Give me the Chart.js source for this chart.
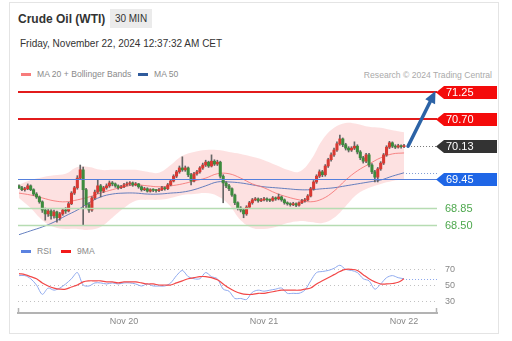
<!DOCTYPE html>
<html>
<head>
<meta charset="utf-8">
<script src="https://cdn.jsdelivr.net/npm/chart.js@4.4.1/dist/chart.umd.min.js"></script>
<style>
  html,body{margin:0;padding:0;background:#fff;}
  body{width:512px;height:341px;position:relative;overflow:hidden;font-family:"Liberation Sans",Arial,sans-serif;}
  .card{position:absolute;left:9px;top:2px;width:490px;height:332px;border:1px solid #e4e4e4;box-sizing:border-box;}
  .t{position:absolute;white-space:nowrap;}
  .sw{position:absolute;width:10px;height:3px;}
  canvas{position:absolute;left:0;}
</style>
</head>
<body>
<div class="card"></div>
<div class="t" style="left:18px;top:13px;font-size:12px;line-height:12px;font-weight:bold;color:#333">Crude Oil (WTI)</div>
<div class="t" style="left:110px;top:9px;width:42px;height:19px;line-height:19px;font-size:10px;text-align:center;background:#ebebeb;color:#333">30 MIN</div>
<div class="t" style="left:20px;top:39px;font-size:10px;line-height:10px;color:#333">Friday, November 22, 2024 12:37:32 AM CET</div>

<div class="sw" style="left:21px;top:73px;background:#f77b7b"></div>
<div class="t" style="left:37px;top:70px;font-size:8.6px;line-height:9px;color:#8a8a8a">MA 20 + Bollinger Bands</div>
<div class="sw" style="left:138px;top:73px;background:#2f5b9c"></div>
<div class="t" style="left:154px;top:70px;font-size:8.6px;line-height:9px;color:#8a8a8a">MA 50</div>
<div class="t" style="right:20px;top:70.5px;font-size:8.6px;line-height:9px;color:#aaa">Research © 2024 Trading Central</div>

<div class="sw" style="left:21px;top:249.5px;background:#5b82e0"></div>
<div class="t" style="left:37px;top:247px;font-size:8.6px;line-height:9px;color:#8a8a8a">RSI</div>
<div class="sw" style="left:61px;top:249.5px;background:#f21a1a"></div>
<div class="t" style="left:77px;top:247px;font-size:8.6px;line-height:9px;color:#8a8a8a">9MA</div>

<canvas id="main" width="512" height="160" style="top:80px;width:512px;height:160px"></canvas>
<canvas id="rsi" width="512" height="91" style="top:250px;width:512px;height:91px"></canvas>

<script>
// ---------- data (30-min candles, index 0 = Nov 19 06:00 CET) ----------
const candleOpen = [69.31,69.27,69.23,69.25,69.31,69.23,69.14,69.08,68.98,68.81,
 68.73,68.79,68.69,68.77,68.65,68.73,68.81,68.79,68.94,69.16,
 69.27,69.47,69.64,69.23,68.92,68.81,69.06,69.18,69.31,69.20,
 69.27,69.31,69.37,69.35,69.31,69.27,69.29,69.33,69.35,69.37,
 69.33,69.35,69.29,69.23,69.25,69.20,69.23,69.22,69.21,69.23,
 69.27,69.25,69.33,69.41,69.51,69.60,69.68,69.64,69.68,69.54,
 69.41,69.56,69.60,69.68,69.74,69.80,69.72,69.82,69.76,69.80,
 69.51,69.37,69.31,69.25,69.12,68.96,68.85,68.81,68.73,68.87,
 68.96,69.02,69.04,69.00,69.02,69.04,69.02,69.01,69.06,69.04,
 69.08,69.02,68.96,68.94,68.92,68.94,68.91,68.96,69.00,69.02,
 69.10,69.25,69.39,69.51,69.60,69.54,69.72,69.85,69.95,70.05,
 70.18,70.28,70.16,70.09,70.05,70.09,70.13,70.01,69.89,69.82,
 69.95,69.74,69.60,69.49,69.66,69.78,69.95,70.11,70.20,70.13,
 70.11,70.14,70.12];
const candleClose = [69.27,69.23,69.25,69.31,69.23,69.14,69.08,68.98,68.81,68.73,
 68.79,68.69,68.77,68.65,68.73,68.81,68.79,68.94,69.16,69.27,
 69.47,69.64,69.23,68.92,68.81,69.06,69.18,69.31,69.20,69.27,
 69.31,69.37,69.35,69.31,69.27,69.29,69.33,69.35,69.37,69.33,
 69.35,69.29,69.23,69.25,69.20,69.23,69.22,69.21,69.23,69.27,
 69.25,69.33,69.41,69.51,69.60,69.68,69.64,69.68,69.54,69.41,
 69.56,69.60,69.68,69.74,69.80,69.72,69.82,69.76,69.80,69.51,
 69.37,69.31,69.25,69.12,68.96,68.85,68.81,68.73,68.87,68.96,
 69.02,69.04,69.00,69.02,69.04,69.02,69.01,69.06,69.04,69.08,
 69.02,68.96,68.94,68.92,68.94,68.91,68.96,69.00,69.02,69.10,
 69.25,69.39,69.51,69.60,69.54,69.72,69.85,69.95,70.05,70.18,
 70.28,70.16,70.09,70.05,70.09,70.13,70.01,69.89,69.82,69.95,
 69.74,69.60,69.49,69.66,69.78,69.95,70.11,70.20,70.13,70.11,
 70.14,70.12,70.13];
const candleHigh = [69.33,69.30,69.28,69.35,69.33,69.25,69.17,69.10,69.00,68.85,
 68.84,68.82,68.81,68.79,68.76,68.84,68.86,68.97,69.19,69.30,
 69.52,69.74,69.70,69.26,68.96,69.09,69.22,69.43,69.34,69.30,
 69.35,69.41,69.40,69.37,69.33,69.32,69.36,69.39,69.40,69.39,
 69.38,69.36,69.31,69.28,69.27,69.25,69.25,69.24,69.26,69.30,
 69.29,69.36,69.44,69.54,69.63,69.72,69.91,69.72,69.70,69.57,
 69.59,69.63,69.71,69.78,69.84,69.82,69.95,69.85,69.84,69.82,
 69.54,69.40,69.34,69.27,69.14,68.98,68.88,68.84,68.90,68.99,
 69.05,69.07,69.06,69.05,69.07,69.06,69.04,69.09,69.08,69.14,
 69.10,69.04,68.98,68.96,68.97,68.96,68.98,69.03,69.05,69.13,
 69.28,69.42,69.54,69.64,69.63,69.75,69.88,69.99,70.09,70.22,
 70.36,70.30,70.19,70.12,70.12,70.22,70.16,70.04,69.92,69.98,
 69.98,69.77,69.63,69.69,69.81,69.98,70.14,70.23,70.22,70.16,
 70.17,70.16,70.17];
const candleLow = [69.25,69.21,69.20,69.23,69.21,69.11,69.05,68.95,68.76,68.60,
 68.68,68.62,68.64,68.56,68.60,68.70,68.74,68.77,68.92,69.13,
 69.24,69.44,68.50,68.86,68.76,68.78,69.03,69.15,69.08,69.17,
 69.24,69.28,69.31,69.28,69.24,69.25,69.27,69.31,69.32,69.30,
 69.31,69.26,69.20,69.21,69.18,69.18,69.19,69.18,69.19,69.21,
 69.22,69.23,69.31,69.39,69.48,69.57,69.61,69.61,69.50,69.33,
 69.39,69.53,69.57,69.65,69.71,69.69,69.70,69.73,69.73,69.47,
 68.96,69.27,69.21,69.09,68.92,68.81,68.77,68.65,68.70,68.84,
 68.93,69.00,68.97,68.98,69.00,68.99,68.98,68.99,69.01,69.02,
 68.99,68.93,68.91,68.89,68.90,68.88,68.89,68.94,68.97,69.00,
 69.08,69.22,69.36,69.48,69.50,69.51,69.69,69.82,69.92,70.02,
 70.15,70.12,70.05,70.01,70.02,70.06,69.97,69.85,69.78,69.79,
 69.70,69.56,69.39,69.39,69.63,69.75,69.92,70.08,70.10,70.08,
 70.09,70.09,70.10];

// indicator samples (candle index, value)
const bandIndex = [0,4,8,12,16,20,24,28,32,36,40,44,48,52,56,60,64,68,72,76,80,84,88,92,96,100,104,108,112,116,120,124,128,132];
const bandUpper = [69.33,69.43,69.49,69.53,69.56,69.70,69.70,69.64,69.64,69.64,69.64,69.60,69.58,69.74,69.93,70.01,70.05,70.05,70.01,69.97,69.91,69.84,69.74,69.64,69.60,69.84,70.26,70.51,70.61,70.59,70.53,70.51,70.46,70.42];
const bandLower = [69.06,68.85,68.60,68.46,68.42,68.42,68.40,68.46,68.65,68.85,69.00,69.02,69.02,69.06,69.12,69.14,69.16,69.10,68.92,68.60,68.44,68.42,68.46,68.54,68.58,68.56,68.54,68.65,68.89,69.14,69.27,69.35,69.41,69.45];
const ma20 = [69.16,69.12,69.06,69.00,68.98,69.02,69.08,69.16,69.23,69.29,69.33,69.31,69.29,69.31,69.35,69.41,69.47,69.56,69.56,69.47,69.35,69.27,69.16,69.08,69.02,68.98,69.04,69.20,69.43,69.62,69.76,69.89,69.97,69.99];
const ma50 = [68.30,68.38,68.46,68.56,68.69,68.81,68.96,69.08,69.14,69.16,69.16,69.14,69.14,69.16,69.18,69.23,69.31,69.39,69.39,69.37,69.33,69.29,69.27,69.25,69.23,69.23,69.25,69.27,69.31,69.35,69.39,69.43,69.51,69.58];

const rsiIndex = [0,2,4,6,8,10,12,14,16,18,20,22,24,26,28,30,32,34,36,38,40,42,44,46,48,50,52,54,56,58,60,62,64,66,68,70,72,74,76,78,80,82,84,86,88,90,92,94,96,98,100,102,104,106,108,110,112,114,116,118,120,122,124,126,128,130,132];
const rsiValues = [62.3,62.3,58.4,50.6,39.0,46.8,44.2,46.8,51.9,58.4,66.1,50.6,49.4,53.2,53.2,51.9,53.2,51.9,53.2,53.2,51.9,49.4,51.9,49.4,49.4,49.4,53.2,62.3,68.7,61.0,58.4,58.4,66.1,61.0,58.4,45.5,42.9,33.9,33.9,32.6,41.6,44.2,42.9,44.2,45.5,46.8,40.3,40.3,40.3,44.2,55.8,66.1,67.4,68.7,71.3,75.2,70.0,68.7,66.1,58.4,55.8,45.5,51.9,59.7,62.3,59.7,58.4];
const rsiMa9 = [64.8,63.5,61.0,58.4,53.2,49.4,46.8,45.5,45.5,48.1,50.6,54.5,55.8,55.8,55.8,54.5,54.5,53.2,54.5,54.5,54.5,53.2,51.9,51.9,50.6,50.6,50.6,53.2,55.8,58.4,59.7,61.0,61.0,59.7,57.1,51.9,46.8,42.9,40.3,39.0,39.0,40.3,40.3,41.6,42.9,44.2,44.2,44.2,44.2,45.5,46.8,51.9,55.8,59.7,63.5,67.4,70.0,70.0,68.7,63.5,58.4,54.5,51.9,51.9,52.5,54.0,58.4];
const rsiTicks = [30, 50, 70];

const dateTickIndex = [36, 84, 132];
const dateTickLabels = ['Nov 20', 'Nov 21', 'Nov 22'];

const levelValues = [71.25, 70.70, 70.13, 69.45, 68.85, 68.50];
const levelRoles = ['resistance', 'resistance', 'last', 'pivot', 'support', 'support'];
const arrowTarget = 71.25;

// ---------- rendering ----------
Chart.defaults.font.family = '"Liberation Sans", Arial, sans-serif';
const xMin = -0.34, xMax = 143.3;
const UP = '#d83a33', DOWN = '#3d8b3d';

function hline(ctx, x1, x2, y, color, w, dash) {
  ctx.beginPath();
  ctx.setLineDash(dash || []);
  ctx.strokeStyle = color; ctx.lineWidth = w;
  ctx.moveTo(x1, y); ctx.lineTo(x2, y); ctx.stroke();
  ctx.setLineDash([]);
}

const overlay = {
  id: 'overlay',
  afterDatasetsDraw(chart) {
    const {ctx, chartArea: a, scales: {x, y}} = chart;
    const last = candleClose.length - 1;
    const lastX = x.getPixelForValue(last);
    ctx.save();
    // MA 50 projection
    const maY = Math.round(y.getPixelForValue(ma50[ma50.length - 1])) + 0.5;
    hline(ctx, x.getPixelForValue(bandIndex[bandIndex.length - 1]) + 2, a.right, maY, '#7f9bd4', 1, [1, 2]);

    levelValues.forEach((v, k) => {
      const role = levelRoles[k];
      const py = Math.round(y.getPixelForValue(v));
      if (role === 'resistance') hline(ctx, a.left, a.right, py, '#e21b1b', 2);
      if (role === 'pivot') hline(ctx, a.left, a.right, py + 0.5, '#5580dc', 1.2);
      if (role === 'support') hline(ctx, a.left, a.right, py + 0.5, '#b6dcb2', 1.4);
      if (role === 'last') hline(ctx, lastX + 4, a.right, py + 0.5, '#777', 1, [1, 2]);

      const label = v.toFixed(2);
      ctx.font = '11px "Liberation Sans", Arial, sans-serif';
      ctx.textBaseline = 'middle';
      ctx.textAlign = 'left';
      if (role === 'support') {
        ctx.fillStyle = '#4ea84e';
        ctx.fillText(label, a.right + 8, py + 1);
      } else {
        const fill = role === 'resistance' ? '#f40b0b' : role === 'last' ? '#333333' : '#1f66e6';
        const x0 = a.right - 1, x1 = x0 + 8, x2 = 497, h = 6.5, cy = py + 0.5;
        ctx.beginPath();
        ctx.moveTo(x0, cy); ctx.lineTo(x1, cy - h); ctx.lineTo(x2, cy - h);
        ctx.lineTo(x2, cy + h); ctx.lineTo(x1, cy + h); ctx.closePath();
        ctx.fillStyle = fill; ctx.fill();
        ctx.fillStyle = '#fff';
        ctx.fillText(label, a.right + 9, cy + 0.5);
      }
    });

    // forecast arrow
    const sx = lastX + 4, sy = y.getPixelForValue(candleClose[last]);
    const ex = a.right - 1.5, ey = y.getPixelForValue(arrowTarget) - 1;
    const ang = Math.atan2(ey - sy, ex - sx);
    const hl = 12, hw = 5.5;
    const bx = ex - hl * Math.cos(ang), by = ey - hl * Math.sin(ang);
    ctx.strokeStyle = '#2c63a6'; ctx.fillStyle = '#2c63a6';
    ctx.lineWidth = 3.5; ctx.lineCap = 'round';
    ctx.beginPath(); ctx.moveTo(sx, sy); ctx.lineTo(bx, by); ctx.stroke();
    ctx.beginPath();
    ctx.moveTo(ex, ey);
    ctx.lineTo(bx + hw * Math.sin(ang), by - hw * Math.cos(ang));
    ctx.lineTo(bx - hw * Math.sin(ang), by + hw * Math.cos(ang));
    ctx.closePath(); ctx.fill();
    ctx.restore();
  }
};

new Chart(document.getElementById('main'), {
  type: 'bar',
  data: {
    datasets: [
      {type: 'line', data: bandIndex.map((ix, k) => ({x: ix, y: bandUpper[k]})), borderColor: 'transparent', borderWidth: 0,
       pointRadius: 0, tension: 0.4, fill: '+1', backgroundColor: 'rgba(250,165,165,0.33)', order: 10},
      {type: 'line', data: bandIndex.map((ix, k) => ({x: ix, y: bandLower[k]})), borderColor: 'transparent', borderWidth: 0,
       pointRadius: 0, tension: 0.4, fill: false, order: 9},
      {type: 'line', data: bandIndex.map((ix, k) => ({x: ix, y: ma50[k]})), borderColor: 'rgba(85,115,185,0.9)', borderWidth: 1,
       pointRadius: 0, tension: 0.4, fill: false, order: 3},
      {type: 'line', data: bandIndex.map((ix, k) => ({x: ix, y: ma20[k]})), borderColor: 'rgba(245,115,115,0.85)', borderWidth: 1,
       pointRadius: 0, tension: 0.4, fill: false, order: 2},
      {type: 'bar', data: candleHigh.map((h, i) => ({x: i, y: [candleLow[i], h]})), backgroundColor: '#666',
       barThickness: 1, grouped: false, order: 1},
      {type: 'bar', data: candleOpen.map((o, i) => ({x: i, y: [o, candleClose[i]]})),
       backgroundColor: candleOpen.map((o, i) => candleClose[i] >= o ? UP : DOWN),
       barThickness: 2.4, minBarLength: 1, grouped: false, order: 0}
    ]
  },
  options: {
    responsive: false, animation: false, devicePixelRatio: 1, events: [],
    layout: {padding: {left: 18, right: 75, top: 2, bottom: 3}},
    plugins: {legend: {display: false}, tooltip: {enabled: false}},
    scales: {
      x: {type: 'linear', min: xMin, max: xMax, offset: false, display: false},
      y: {min: 68.252, max: 71.457, display: false}
    }
  },
  plugins: [overlay]
});

const rsiOverlay = {
  id: 'rsiOverlay',
  afterDatasetsDraw(chart) {
    const {ctx, chartArea: a, scales: {x, y}} = chart;
    ctx.save();
    const ly = Math.round(y.getPixelForValue(rsiValues[rsiValues.length - 1])) + 0.5;
    hline(ctx, x.getPixelForValue(rsiIndex[rsiIndex.length - 1]) + 2, a.right, ly, '#8aa6ec', 1, [1, 2]);
    ctx.strokeStyle = '#b3b3b3'; ctx.lineWidth = 1.5;
    ctx.beginPath();
    ctx.moveTo(a.left + 0.5, a.bottom); ctx.lineTo(a.left + 0.5, a.bottom - 5);
    ctx.moveTo(a.right - 0.5, a.bottom); ctx.lineTo(a.right - 0.5, a.bottom - 5);
    ctx.stroke();
    ctx.restore();
  }
};

new Chart(document.getElementById('rsi'), {
  type: 'line',
  data: {
    datasets: [
      {data: rsiIndex.map((ix, k) => ({x: ix, y: rsiMa9[k]})), borderColor: '#f24848', borderWidth: 1.2, pointRadius: 0, tension: 0.4, order: 0},
      {data: rsiIndex.map((ix, k) => ({x: ix, y: rsiValues[k]})), borderColor: '#8ea9ee', borderWidth: 1, pointRadius: 0, tension: 0.3, order: 1}
    ]
  },
  options: {
    responsive: false, animation: false, devicePixelRatio: 1, events: [],
    layout: {padding: {left: 18, right: 0, top: 8, bottom: 12}},
    plugins: {legend: {display: false}, tooltip: {enabled: false}},
    scales: {
      x: {
        type: 'linear', min: xMin, max: xMax,
        grid: {display: false, drawTicks: false},
        border: {display: true, color: '#b3b3b3', width: 2},
        afterBuildTicks: s => { s.ticks = dateTickIndex.map(v => ({value: v})); },
        afterFit: s => { s.height = 16; s.paddingLeft = 0; s.paddingRight = 0; },
        ticks: {autoSkip: false, maxRotation: 0, padding: 3, color: '#888', font: {size: 9},
                callback: v => dateTickLabels[dateTickIndex.indexOf(v)]}
      },
      y: {
        position: 'right', min: 15.8, max: 84.2,
        afterFit: s => { s.width = 75; s.paddingTop = 0; s.paddingBottom = 0; },
        afterBuildTicks: s => { s.ticks = rsiTicks.map(v => ({value: v})); },
        grid: {color: '#c2c2c2', drawTicks: false, lineWidth: 1},
        border: {display: false, dash: [1, 3]},
        ticks: {padding: 8, color: '#888', font: {size: 9}, callback: v => String(v)}
      }
    }
  },
  plugins: [rsiOverlay]
});
</script>
</body>
</html>
